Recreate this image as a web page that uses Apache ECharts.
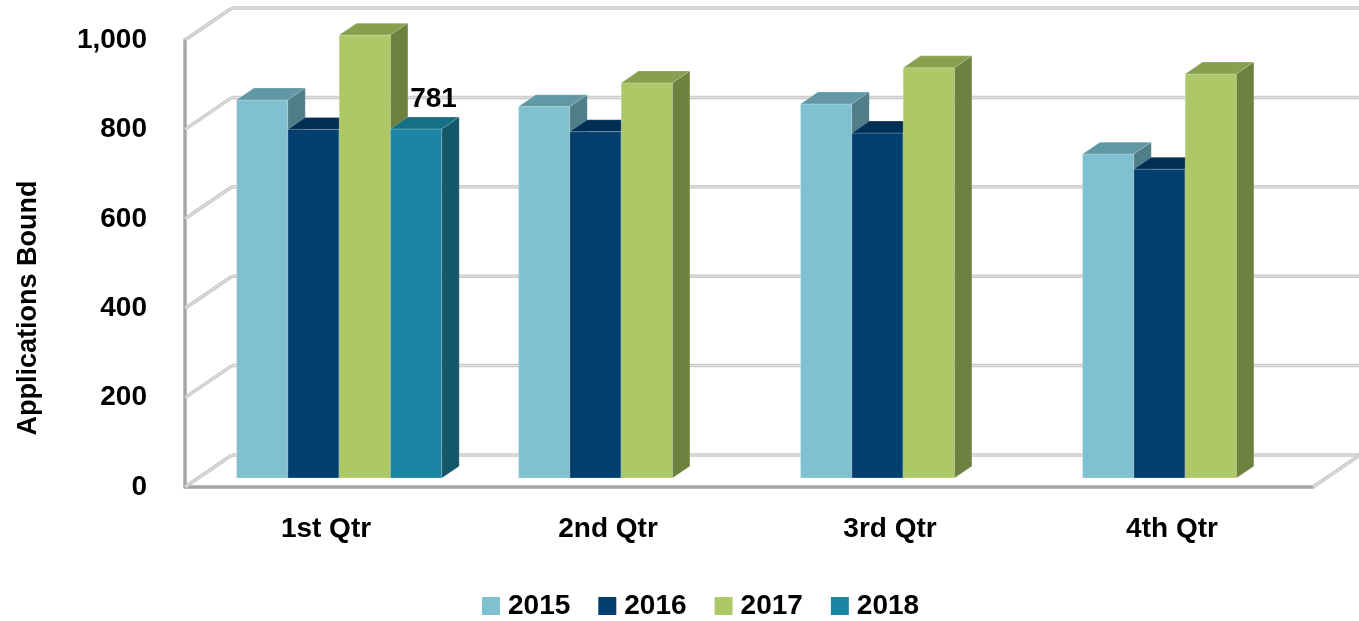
<!DOCTYPE html>
<html>
<head>
<meta charset="utf-8">
<title>Applications Bound</title>
<script src="https://cdn.jsdelivr.net/npm/echarts@6/dist/echarts.min.js"></script>
<style>
  html, body { margin: 0; padding: 0; background: #fff; }
  #chart { width: 1359px; height: 621px; }
</style>
</head>
<body>
<div id="chart"></div>
<script>
// ---- data ----
const quarters = ['1st Qtr', '2nd Qtr', '3rd Qtr', '4th Qtr'];
const years = ['2015', '2016', '2017', '2018'];
const values2015 = [846, 831, 837, 725];
const values2016 = [780, 775, 772, 691];
const values2017 = [991, 884, 918, 904];
const values2018 = [781, null, null, null];
const yTicks = [0, 200, 400, 600, 800, 1000];
const labelYear = '2018';

const seriesValues = [values2015, values2016, values2017, values2018];

// ---- fake 3d look ----
const DEPTH_X = 47;      // full floor depth on screen
const DEPTH_Y = 32;
const BAR_FRONT = 0.28;  // bars sit between these depth fractions
const BAR_BACK = 0.65;
const BAR_FRAC = 0.182;  // bar width as part of the category band

const FONT = '"Liberation Sans", Arial, sans-serif';

// front / top / side colours per year
const faceColors = [
  { front: '#7fc1d1', top: '#6298a5', side: '#4f7e88' },
  { front: '#013f70', top: '#002f55', side: '#002b4e' },
  { front: '#adc967', top: '#879f4f', side: '#6e8240' },
  { front: '#1b86a3', top: '#146f87', side: '#13586a' }
];

function wallRenderer(params, api) {
  const cs = params.coordSys;
  const v = api.value(1);
  const y = api.coord([0, v])[1];
  const left = cs.x;
  const right = cs.x + cs.width;
  const segs = [
    [left, y, left + DEPTH_X, y - DEPTH_Y],
    [left + DEPTH_X, y - DEPTH_Y, right + DEPTH_X, y - DEPTH_Y]
  ];
  if (v === 0) {
    segs.push([right, y, right + DEPTH_X, y - DEPTH_Y]);
  }
  const children = [];
  segs.forEach(function (s) {
    children.push({
      type: 'line',
      shape: { x1: s[0], y1: s[1], x2: s[2], y2: s[3] },
      style: { stroke: '#c8c8c8', lineWidth: 3.5 }
    });
    children.push({
      type: 'line',
      shape: { x1: s[0], y1: s[1], x2: s[2], y2: s[3] },
      style: { stroke: '#e8e8e8', lineWidth: 1 }
    });
  });
  return { type: 'group', children: children };
}

function makeBarRenderer(k, showLabel) {
  const c = faceColors[k];
  const fdx = DEPTH_X * BAR_FRONT, fdy = DEPTH_Y * BAR_FRONT;
  const sdx = DEPTH_X * (BAR_BACK - BAR_FRONT), sdy = DEPTH_Y * (BAR_BACK - BAR_FRONT);
  return function (params, api) {
    const cat = api.value(0);
    const val = api.value(1);
    const base = api.coord([cat, 0]);
    const top = api.coord([cat, val]);
    const band = api.size([1, 0])[0];
    const w = band * BAR_FRAC;
    const x0 = base[0] - w * years.length / 2 + k * w + fdx;
    const x1 = x0 + w;
    const yb = base[1] - fdy;
    const yt = top[1] - fdy;
    const children = [
      {
        type: 'rect',
        shape: { x: x0, y: yt, width: w, height: yb - yt },
        style: { fill: c.front, stroke: 'rgba(255,255,255,0.25)', lineWidth: 1 }
      },
      {
        type: 'polygon',
        shape: { points: [[x0, yt], [x1, yt], [x1 + sdx, yt - sdy], [x0 + sdx, yt - sdy]] },
        style: { fill: c.top, stroke: 'rgba(255,255,255,0.2)', lineWidth: 1 }
      },
      {
        type: 'polygon',
        shape: { points: [[x1, yt], [x1 + sdx, yt - sdy], [x1 + sdx, yb - sdy], [x1, yb]] },
        style: { fill: c.side, stroke: 'rgba(255,255,255,0.15)', lineWidth: 1 }
      }
    ];
    if (showLabel) {
      children.push({
        type: 'text',
        style: {
          x: x0 + w / 2 + sdx,
          y: yt - sdy - 4,
          text: String(val),
          fill: '#000',
          font: 'bold 28px ' + FONT,
          align: 'center',
          verticalAlign: 'bottom'
        }
      });
    }
    return { type: 'group', children: children };
  };
}

const chart = echarts.init(document.getElementById('chart'));

const series = [{
  name: 'walls',
  type: 'custom',
  z: 1,
  silent: true,
  renderItem: wallRenderer,
  data: yTicks.map(function (v) { return [0, v]; }),
  encode: { x: 0, y: 1 }
}];

years.forEach(function (yr, k) {
  const data = [];
  seriesValues[k].forEach(function (v, i) {
    if (v != null) data.push([i, v]);
  });
  series.push({
    name: yr,
    type: 'custom',
    z: 2,
    itemStyle: { color: faceColors[k].front },
    renderItem: makeBarRenderer(k, yr === labelYear),
    data: data,
    encode: { x: 0, y: 1 }
  });
});

const option = {
  animation: false,
  backgroundColor: '#fff',
  grid: { left: 185, right: 46, top: 40, bottom: 134 },
  legend: {
    data: years,
    left: 482,
    top: 592,
    padding: 0,
    icon: 'rect',
    itemWidth: 18,
    itemHeight: 18,
    itemGap: 28,
    textStyle: {
      fontFamily: FONT,
      fontWeight: 'bold',
      fontSize: 28,
      color: '#000',
      lineHeight: 28,
      padding: [0, 0, 0, 3]
    }
  },
  xAxis: {
    type: 'category',
    data: quarters,
    axisLine: { show: true, lineStyle: { color: '#a6a6a6', width: 3.5 } },
    axisTick: { show: false },
    splitLine: { show: false },
    axisLabel: {
      margin: 28,
      color: '#000',
      fontFamily: FONT,
      fontWeight: 'bold',
      fontSize: 28
    }
  },
  yAxis: {
    type: 'value',
    min: 0,
    max: 1000,
    interval: 200,
    axisLine: { show: true, lineStyle: { color: '#a6a6a6', width: 3.5 } },
    axisTick: { show: false },
    splitLine: { show: false },
    axisLabel: {
      margin: 38,
      color: '#000',
      fontFamily: FONT,
      fontWeight: 'bold',
      fontSize: 28,
      formatter: function (v) { return v.toLocaleString('en-US'); }
    }
  },
  graphic: [{
    type: 'text',
    x: 29,
    y: 308,
    rotation: Math.PI / 2,
    style: {
      text: 'Applications Bound',
      fill: '#000',
      font: 'bold 27px ' + FONT,
      align: 'center',
      verticalAlign: 'middle'
    }
  }],
  series: series
};

chart.setOption(option);

window.addEventListener('resize', function () {
  chart.resize();
});
</script>
</body>
</html>
